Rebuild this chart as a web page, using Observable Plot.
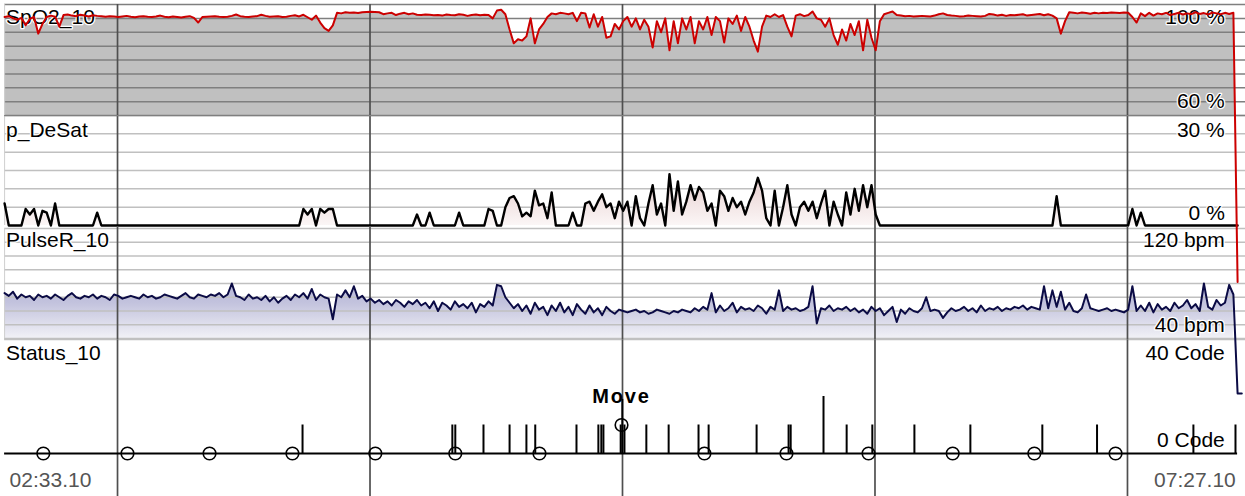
<!DOCTYPE html>
<html><head><meta charset="utf-8">
<script src="https://cdn.jsdelivr.net/npm/d3@7"></script>
<script src="https://cdn.jsdelivr.net/npm/@observablehq/plot@0.6"></script>
<style>
html,body{margin:0;padding:0;background:#fff;}
#chart{position:relative;width:1245px;height:496px;overflow:hidden;background:#fff;}
</style></head><body>
<svg width="0" height="0" style="position:absolute">
<defs>
<linearGradient id="pulseGrad" x1="0" y1="0" x2="0" y2="1"><stop offset="0" stop-color="#b8b8d8"/><stop offset="0.35" stop-color="#c2c2dd"/><stop offset="1" stop-color="#f1f1f6"/></linearGradient>
<linearGradient id="desatGrad" x1="0" y1="0" x2="0" y2="1"><stop offset="0" stop-color="#e6cccc"/><stop offset="1" stop-color="#fbf6f6"/></linearGradient>
</defs></svg>
<div id="chart"></div>
<script>
// ---------- DATA ----------
const startClock = "02:33:10";
const endClock = "07:27:10";
const timeLabels = ["02:33.10", "07:27.10"];
const hourLines = ["03:00", "04:00", "05:00", "06:00", "07:00"];
const sampleStepMin = 1;

const panelNames = ["SpO2_10", "p_DeSat", "PulseR_10", "Status_10"];
const panelTopLabels = ["100 %", "30 %", "120 bpm", "40 Code"];
const panelBottomLabels = ["60 %", "0 %", "40 bpm", "0 Code"];
const spo2Domain = [60, 100];
const desatDomain = [0, 30];
const pulseDomain = [40, 120];
const statusDomain = [0, 40];
const spo2Grid = [60, 65, 70, 75, 80, 85, 90, 95, 100];
const desatGrid = [5, 10, 15, 20, 25, 30];
const pulseGrid = [40, 50, 60, 70, 80, 90, 100, 110, 120];

// SpO2 (%), one sample per minute
const spo2 = [
95.5,95.8,95,94.5,95.2,92.5,94.8,95.5,89.5,93,95.5,96,95.6,92,96.2,96.4,96,95.8,96.3,96,95.7,96.1,95.9,95.8,
95.6,95.8,95.7,95.5,95.7,95.9,95.6,95.4,95.7,95.8,95.6,95.5,95.7,96,95.6,95.4,95.7,95.5,95.3,95.6,95.8,95.2,93.5,
95.5,95.6,95.7,95.8,95.6,95.5,95.6,95.9,96.4,95.8,95.6,95.5,95.7,95.8,96.3,95.9,95.6,95.7,95.8,95.5,95.6,95.9,96.1,95.7,96.3,95.4,
94.5,96,93.5,91.5,90.5,92.5,
97,96.8,97.2,97,97.1,96.9,97.2,97.3,
97.4,97.3,97.2,96.5,96.8,97,96.2,96.7,97,96.5,96.8,96.3,96.2,96.4,
96.3,96.1,96.2,96,96.4,96.2,96.1,96.5,96.3,95.9,96.2,96.4,96.1,96.3,96.2,
95,97.8,98.1,
96.5,91,86,87.5,87,88.5,95,86,91,93,95.5,96.8,96.5,97,96.8,96.5,97,94,97,96.8,91.7,96.5,92,95.5,88,88.5,93,91,94,
95.5,92,95,91,94.5,92,84.5,94,90,95,83.5,94,86,95,91,95.5,86,94,91,95.5,89,95.5,94,86.3,95,93,96,90.5,95.5,92,87,83,92,96,95.5,96.5,95.5,96.2,92,88.5,96,96.5,95.8,96.2,97.5,95,94.5,92,95,89,85.5,
91,87,93,89,94,83.5,94.5,88,83.5,94,96.5,97,97.5,
96.2,96,95.8,95.9,95.7,95.8,95.9,95.8,95.7,96,96.5,96.8,96.2,96,95.9,95.7,95.8,96,95.9,95.8,95.7,95.9,96.6,96.4,96,96.3,95.9,96.2,96.1,96.3,96.5,96,96.2,96.4,96.6,96.1,96.5,96,
95,89.5,94,97.2,
97,96.8,97.1,96.9,96.7,97,96.8,97,96.9,97.1,97,96.9,97.1,
97,95.5,93.5,96.8,95.8,97,96,96.8,96.5,97,96.2,96.6,97,96.4,96.8,96.5,97.2,96.6,96.9,96.4,97.1,96.8,96.5,97,96.6,97,
0
];

// p_DeSat (%), one sample per minute
const desat = [
6,0,0,0,0,4.5,3,4.5,0,4,
3.5,0,6,0,0,0,0,0,0,0,
0,0,3.5,0,0,0,0,0,0,0,
0,0,0,0,0,0,0,0,0,0,
0,0,0,0,0,0,0,0,0,0,
0,0,0,0,0,0,0,0,0,0,
0,0,0,0,0,0,0,0,0,0,
0,4.5,3,4.5,0,4.5,3.5,4.5,4.5,0,
0,0,0,0,0,0,0,0,0,0,
0,0,0,0,0,0,0,0,3,0,
0,3.5,0,0,0,0,0,0,3.5,0,
0,0,0,0,0,4.5,4,0,0,5,
7.5,8,6,2.5,3.5,2.5,9.5,5.5,6,2,
9,0,0,0,0,3.5,0,0,6,6.5,
4,6.5,8.5,5,6,2,6.5,4,6.5,0,
8,2,0,6,11,3,6,0,14,4,
12,3,6.5,11,7,10.5,9,4,6,0,
9.5,8,4,7.5,5,6.5,3,6.5,9,13,
9.5,2,0,9.5,0,5,11,3,0,5,
6.5,4,6.5,2,6,9.5,0,6.5,3,0,
9,3,10,4,11,5,11,3,0,0,
0,0,0,0,0,0,0,0,0,0,
0,0,0,0,0,0,0,0,0,0,
0,0,0,0,0,0,0,0,0,0,
0,0,0,0,0,0,0,0,0,0,
8,0,0,0,0,0,0,0,0,0,
0,0,0,0,0,0,0,0,4.5,0,
3.5,0,0,0,0,0,0,0,0,0,
0,0,0,0,0,0,0,0,0,0,
0,0,0,0
];

// Pulse rate (bpm), one sample per minute
const pulse = [
73,71,74,69,72,70,71,68,72,70,
71,69,72,70,68,71,73,70,69,71,
70,72,69,71,70,68,72,71,69,70,
71,70,69,72,70,71,69,70,72,71,
70,69,71,73,70,69,72,71,70,72,
71,73,70,72,80,71,70,68,72,69,
70,68,71,67,70,66,69,71,68,72,
70,73,69,76,68,72,70,69,54,72,
70,75,70,78,69,71,67,69,66,68,
65,67,64,68,66,63,67,65,68,64,
66,62,67,60,66,64,61,67,63,65,
62,66,59,65,63,67,64,79,78,70,
66,62,65,60,64,58,66,61,63,57,
64,60,66,59,63,57,65,61,58,64,
59,62,57,63,60,58,61,60,59,60,
61,59,60,58,59,61,60,59,58,60,
59,61,60,59,62,60,63,61,73,59,
64,60,62,66,59,63,61,62,60,64,
62,58,63,61,75,60,63,61,62,60,
61,63,78,51,62,61,64,60,62,61,
63,60,62,59,61,58,63,60,62,57,
60,63,52,61,58,62,60,59,62,70,
60,61,60,55,59,62,60,61,63,60,
62,59,64,60,62,61,63,60,62,61,
63,62,64,61,63,62,61,78,62,75,
63,74,61,66,60,59,62,72,62,61,
60,61,62,60,61,60,59,61,78,60,
64,60,66,59,65,61,63,60,66,62,
64,68,62,65,60,80,63,61,68,64,
66,79,72,0,0
];

// Status events (minutes after start, code)
const statusEventMin = [70.8,106.4,107.1,113.8,120.0,124.0,126.1,135.9,141.1,141.8,142.3,146.4,146.8,147.3,152.5,157.8,164.9,167.3,178.7,186.3,186.8,194.6,200.1,206.2,216.2,229.5,246.6,259.6,282.5,292.5];
const statusEventCode = [10,10,10,10,10,10,10,10,10,10,10,10,19,10,10,10,10,10,10,10,10,20,10,10,10,10,10,10,10,10];
// Status markers (circles)
const markerMin = [9.2,29.2,48.7,68.4,88.1,107.1,127.1,146.6,166.3,185.8,205.3,225.3,244.7,264.0];
const markerCode = [0,0,0,0,0,0,0,10,0,0,0,0,0,0];
const markerLabel = ["","","","","","","","Move","","","","","",""];

// ---------- BUILD ----------
const clockToMin = s => { const [h, m, sec = 0] = s.split(":").map(Number); return h * 60 + m + sec / 60; };
const t0 = clockToMin(startClock);
const totalMin = clockToMin(endClock) - t0;
const hourMin = hourLines.map(h => clockToMin(h) - t0);
const toSeries = arr => arr.map((v, i) => ({t: i * sampleStepMin, v}));
const spo2Data = toSeries(spo2);
const desatData = toSeries(desat);
const pulseData = toSeries(pulse);
const pulseAreaData = pulseData.filter(d => d.v >= pulseDomain[0]);
const dataEnd = (spo2.length - 1) * sampleStepMin;
const statusData = statusEventMin.map((t, i) => ({t, code: statusEventCode[i]}));
const markerData = markerMin.map((t, i) => ({t, code: markerCode[i], label: markerLabel[i]}));

const W = 1245, ML = 4.1, MR = 3.7;
const FONT = "'Liberation Sans', Arial, Helvetica, sans-serif";
const FS = 21;

function labelMarks(i, topDy, botDy) {
  const common = {fontSize: FS, fill: "black", stroke: "white", strokeWidth: 2.5, paintOrder: "stroke", lineAnchor: "middle"};
  return [
    Plot.text([panelNames[i]], {...common, frameAnchor: "top-left", textAnchor: "start", dx: 1.5, dy: topDy}),
    Plot.text([panelTopLabels[i]], {...common, frameAnchor: "top-right", textAnchor: "end", dx: -17, dy: topDy}),
    Plot.text([panelBottomLabels[i]], {...common, frameAnchor: "bottom-right", textAnchor: "end", dx: -17, dy: botDy})
  ];
}
const hourRule = (insetTop, insetBottom) => Plot.ruleX(hourMin, {stroke: "#4f4f4f", strokeWidth: 1.7, insetTop, insetBottom});

function finish(svg, z) {
  svg.style.display = "block";
  svg.style.position = "relative";
  svg.style.overflow = "visible";
  svg.style.background = "transparent";
  svg.style.zIndex = z;
  svg.style.maxWidth = "none";
  d3.select(svg).selectAll("text").attr("paint-order", "stroke");
  document.getElementById("chart").appendChild(svg);
  return svg;
}
const base = (height, mt, mb, ydom) => ({
  width: W, height, marginTop: mt, marginBottom: mb, marginLeft: ML, marginRight: MR,
  x: {domain: [0, totalMin], axis: null},
  y: {domain: ydom, axis: null},
  style: {fontFamily: FONT, fontSize: FS + "px", background: "transparent", overflow: "visible"}
});

// Panel 1: SpO2
finish(Plot.plot({
  ...base(115, 4, 0, spo2Domain),
  marks: [
    Plot.areaY(spo2Data, {x: "t", y1: spo2Domain[0], y2: "v", fill: "#c0c0c0", clip: true}),
    Plot.ruleY(spo2Grid, {stroke: "#7f7f7f", strokeWidth: 1.5, insetRight: -MR}),
    Plot.ruleX([0], {stroke: "#cfcfcf", strokeWidth: 1}),
    hourRule(0, 0),
    ...labelMarks(0, 13, -14),
    Plot.lineY(spo2Data, {x: "t", y: "v", stroke: "#cc0000", strokeWidth: 2})
  ]
}), 4);

// Panel 2: p_DeSat
finish(Plot.plot({
  ...base(111, 0, 1, desatDomain),
  marks: [
    Plot.ruleY(desatGrid, {stroke: "#c0c0c0", strokeWidth: 1.5, insetRight: -MR}),
    Plot.areaY(desatData, {x: "t", y1: 0, y2: "v", fill: "url(#desatGrad)"}),
    Plot.ruleX([0], {stroke: "#cfcfcf", strokeWidth: 1}),
    hourRule(0, -1),
    ...labelMarks(1, 15, -12),
    Plot.lineY(desatData, {x: "t", y: "v", stroke: "black", strokeWidth: 2.4})
  ]
}), 1);

// Panel 3: Pulse rate
finish(Plot.plot({
  ...base(113, 2, 1, pulseDomain),
  marks: [
    Plot.areaY(pulseAreaData, {x: "t", y1: pulseDomain[0], y2: "v", fill: "url(#pulseGrad)", clip: true}),
    Plot.ruleY(pulseGrid, {stroke: "#c0c0c0", strokeWidth: 1.5, insetRight: -MR}),
    Plot.ruleX([0], {stroke: "#cfcfcf", strokeWidth: 1}),
    hourRule(-2, -1),
    ...labelMarks(2, 12, -13),
    Plot.lineY(pulseData, {x: "t", y: "v", stroke: "#0b0b45", strokeWidth: 2})
  ]
}), 3);

// Panel 4: Status
const p4 = Plot.plot({
  ...base(157, 0, 43, statusDomain),
  marks: [
    Plot.ruleY([statusDomain[1]], {stroke: "#c0c0c0", strokeWidth: 1.5, insetRight: -MR}),
    hourRule(0, -43),
    ...labelMarks(3, 14, -13),
    Plot.text([timeLabels[0]], {x: 0, frameAnchor: "bottom", textAnchor: "start", lineAnchor: "middle", dx: 5, dy: 27, fontSize: FS, fill: "#555"}),
    Plot.text([timeLabels[1]], {x: totalMin, frameAnchor: "bottom", textAnchor: "end", lineAnchor: "middle", dx: -6, dy: 27, fontSize: FS, fill: "#555"}),
    Plot.ruleY([0], {x1: 0, x2: dataEnd, stroke: "black", strokeWidth: 1.8}),
    Plot.ruleX(statusData, {x: "t", y1: 0, y2: "code", stroke: "black", strokeWidth: 2}),
    Plot.dot(markerData, {x: "t", y: "code", r: 6.3, stroke: "black", strokeWidth: 1.6, fill: "none"}),
    Plot.text(markerData.filter(d => d.label), {x: "t", y: "code", text: "label", dy: -28, fontSize: 20, fontWeight: "bold", fill: "black", lineAnchor: "middle"})
  ]
});
d3.select(p4).selectAll("text").filter(function() { return this.textContent === "Move"; }).attr("letter-spacing", "1.8px");
finish(p4, 1);
</script>
</body></html>
